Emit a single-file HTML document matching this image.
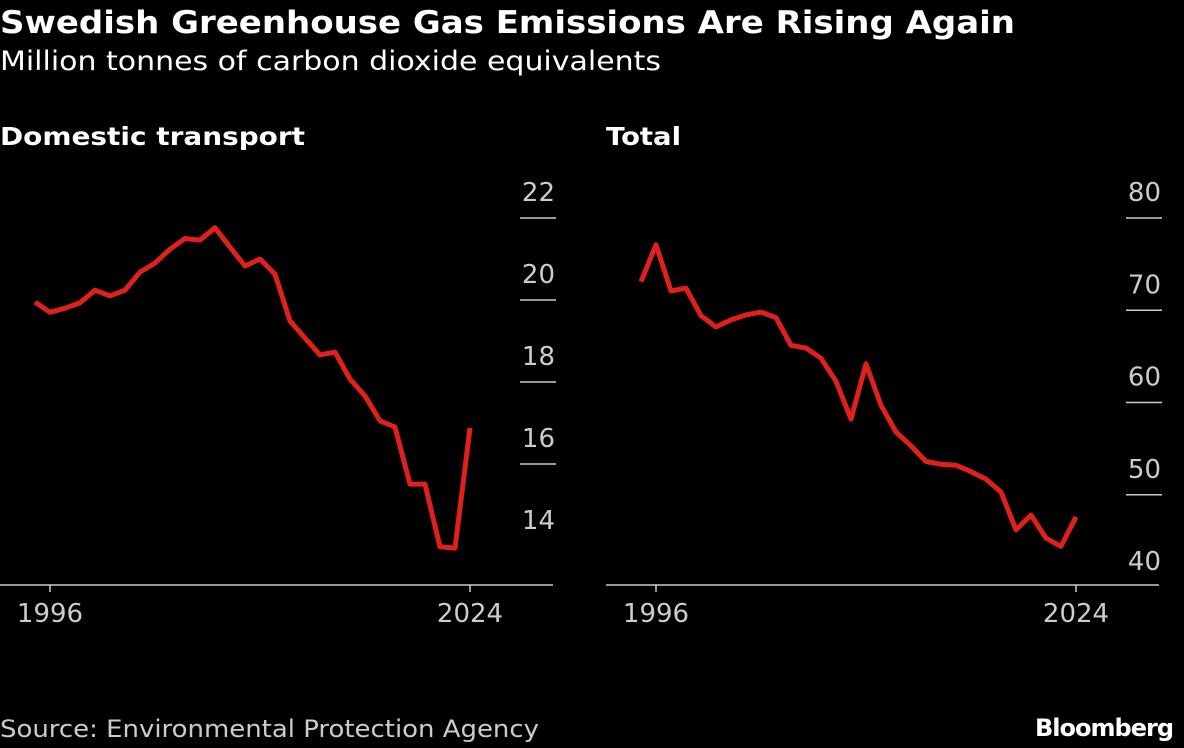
<!DOCTYPE html>
<html><head><meta charset="utf-8"><style>
html,body{margin:0;padding:0;background:#000;}
svg{display:block;font-family:"DejaVu Sans","Liberation Sans",sans-serif;}
</style></head><body>
<svg id="c" width="1184" height="748" viewBox="0 0 1184 748">
<text x="0" y="33" fill="#fff" font-size="31" font-weight="bold" textLength="1015" lengthAdjust="spacingAndGlyphs">Swedish Greenhouse Gas Emissions Are Rising Again</text>
<text x="0" y="70" fill="#fff" font-size="27" textLength="661" lengthAdjust="spacingAndGlyphs">Million tonnes of carbon dioxide equivalents</text>
<text x="0" y="145" fill="#fff" font-size="25" font-weight="bold" textLength="305" lengthAdjust="spacingAndGlyphs">Domestic transport</text>
<text x="606" y="145" fill="#fff" font-size="25" font-weight="bold" textLength="75" lengthAdjust="spacingAndGlyphs">Total</text>
<text x="0" y="737" fill="#ccc" font-size="24" textLength="539" lengthAdjust="spacingAndGlyphs">Source: Environmental Protection Agency</text>
<text x="1173" y="736" fill="#fff" font-size="24" font-weight="bold" text-anchor="end" letter-spacing="-1">Bloomberg</text>
<g id="p1"></g><g id="p2"></g>
</svg>
<script>
const years = [1995,1996,1997,1998,1999,2000,2001,2002,2003,2004,2005,2006,2007,2008,2009,2010,2011,2012,2013,2014,2015,2016,2017,2018,2019,2020,2021,2022,2023,2024];
const transport = [19.95,19.7,19.8,19.93,20.24,20.1,20.24,20.68,20.9,21.24,21.5,21.46,21.76,21.29,20.83,21.0,20.63,19.49,19.07,18.66,18.73,18.07,17.66,17.05,16.9,15.51,15.51,13.98,13.95,16.88];
const total = [73.1,77.1,72.1,72.4,69.4,68.2,68.95,69.5,69.8,69.2,66.2,65.9,64.8,62.3,58.2,64.2,59.7,56.8,55.3,53.6,53.3,53.2,52.5,51.7,50.3,46.2,47.8,45.3,44.4,47.6];
const transportTicks = [14,16,18,20,22];
const totalTicks = [40,50,60,70,80];
const yearTicks = [1996,2024];
const NS='http://www.w3.org/2000/svg';
function mk(tag,attrs,parent){const e=document.createElementNS(NS,tag);for(const k in attrs)e.setAttribute(k,attrs[k]);parent.appendChild(e);return e;}
function panel(g,ox,vals,ticks,ymin,ymax,name){
  const x=y=>ox+50+(y-1996)*15;
  const y=v=>587-(v-ymin)/(ymax-ymin)*(587-218);
  ticks.forEach((t,i)=>{
    const lab=mk('text',{x:ox+555,y:y(t)-17,fill:'#ccc','font-size':'26','text-anchor':'end'},g);
    lab.textContent=t;
    
    
    if(i>0){
      const l=mk('line',{x1:ox+520,x2:ox+556,y1:y(t),y2:y(t),stroke:'#ccc','stroke-width':'1.5'},g);
      
      
    }
  });
  const ax=mk('line',{x1:ox,x2:ox+553,y1:585,y2:585,stroke:'#ccc','stroke-width':'1.5'},g);
  
  
  yearTicks.forEach(yr=>{
    const tk=mk('line',{x1:x(yr),x2:x(yr),y1:585,y2:592,stroke:'#ccc','stroke-width':'1.5'},g);
    
    
    const tl=mk('text',{x:x(yr),y:622,fill:'#ccc','font-size':'26','text-anchor':'middle'},g);
    tl.textContent=yr;
    
    
  });
  const d=vals.map((v,i)=>(i?'L':'M')+x(years[i]).toFixed(1)+','+y(v).toFixed(1)).join(' ');
  const p=mk('path',{d:d,fill:'none',stroke:'#e0201b','stroke-width':'5','stroke-linejoin':'round'},g);
  
  
}
panel(document.getElementById('p1'),0,transport,transportTicks,13,22,'transport');
panel(document.getElementById('p2'),606,total,totalTicks,40,80,'total');
</script>
</body></html>
